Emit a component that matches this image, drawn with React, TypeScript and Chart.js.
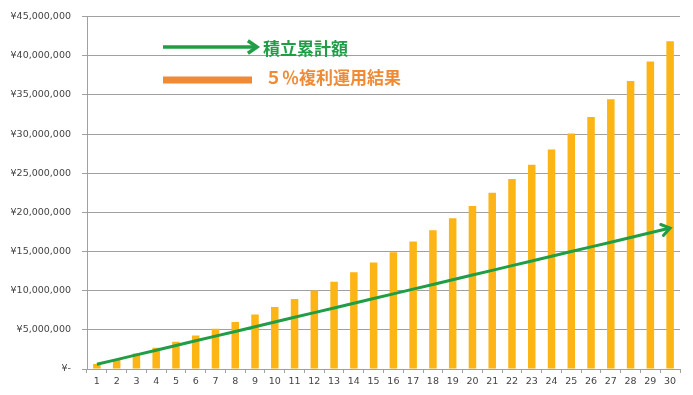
import React, { useEffect, useRef } from "react";
import { Chart, registerables } from "chart.js";

Chart.register(...registerables);

const years = ["1","2","3","4","5","6","7","8","9","10","11","12","13","14","15","16","17","18","19","20","21","22","23","24","25","26","27","28","29","30"];
// 5% compound result (bars)
const compoundValues = [630000,1291000,1986000,2715000,3481000,4285000,5129000,6016000,6947000,7924000,8950000,10028000,11159000,12347000,13594000,14904000,16279000,17723000,19240000,20832000,22503000,24258000,26101000,28036000,30068000,32201000,34442000,36794000,39263000,41856000];
// cumulative contributions (arrow line)
const cumulativeValues = [600000,1200000,1800000,2400000,3000000,3600000,4200000,4800000,5400000,6000000,6600000,7200000,7800000,8400000,9000000,9600000,10200000,10800000,11400000,12000000,12600000,13200000,13800000,14400000,15000000,15600000,16200000,16800000,17400000,18000000];
const legendLabels = ["積立累計額", "５％複利運用結果"];

const GREEN = "#1f9e45";
const BAR = "#fdb515";
const ORANGE = "#f08a34";

function drawChevron(ctx: CanvasRenderingContext2D, x: number, y: number, angle: number, len: number) {
  ctx.beginPath();
  ctx.moveTo(x - len * Math.cos(angle - 0.6), y - len * Math.sin(angle - 0.6));
  ctx.lineTo(x, y);
  ctx.lineTo(x - len * Math.cos(angle + 0.6), y - len * Math.sin(angle + 0.6));
  ctx.stroke();
}

const overlayPlugin = {
  id: "overlay",
  afterDatasetsDraw(chart: any) {
    const ctx = chart.ctx as CanvasRenderingContext2D;
    const meta = chart.getDatasetMeta(1);
    const pts = meta.data;
    if (pts.length > 1) {
      const a = pts[pts.length - 2];
      const b = pts[pts.length - 1];
      const ang = Math.atan2(b.y - a.y, b.x - a.x);
      ctx.save();
      ctx.strokeStyle = GREEN;
      ctx.lineWidth = 3;
      ctx.lineCap = "round";
      ctx.lineJoin = "miter";
      drawChevron(ctx, b.x, b.y, ang, 10);
      ctx.restore();
    }
    // legend
    ctx.save();
    ctx.strokeStyle = GREEN;
    ctx.lineWidth = 3.5;
    ctx.beginPath();
    ctx.moveTo(163, 47);
    ctx.lineTo(256, 47);
    ctx.stroke();
    drawChevron(ctx, 257, 47, 0, 11);
    ctx.strokeStyle = ORANGE;
    ctx.lineWidth = 7;
    ctx.beginPath();
    ctx.moveTo(163, 80);
    ctx.lineTo(252, 80);
    ctx.stroke();
    ctx.font = "bold 17px 'Noto Sans CJK JP'";
    ctx.textBaseline = "middle";
    ctx.textAlign = "left";
    ctx.fillStyle = GREEN;
    ctx.fillText(legendLabels[0], 263, 49);
    ctx.fillStyle = ORANGE;
    ctx.fillText(legendLabels[1], 265, 78);
    ctx.restore();
  },
};

export default function App() {
  const ref = useRef<HTMLCanvasElement>(null);
  useEffect(() => {
    if (!ref.current) return;
    const chart = new Chart(ref.current, {
      type: "bar",
      data: {
        labels: years,
        datasets: [
          {
            type: "bar",
            label: legendLabels[1],
            data: compoundValues,
            backgroundColor: BAR,
            barPercentage: 0.38,
            categoryPercentage: 1,
            order: 2,
          },
          {
            type: "line",
            label: legendLabels[0],
            data: cumulativeValues,
            borderColor: GREEN,
            borderWidth: 3,
            pointRadius: 0,
            tension: 0,
            order: 1,
          } as any,
        ],
      },
      options: {
        responsive: false,
        animation: false,
        layout: { padding: { left: 0, right: 13, top: 9, bottom: 4 } },
        plugins: { legend: { display: false }, tooltip: { enabled: false } },
        scales: {
          x: {
            grid: {
              display: true,
              drawOnChartArea: false,
              drawTicks: true,
              tickLength: 4,
              color: "#a0a0a0",
              offset: true,
            },
            border: { color: "#a0a0a0" },
            ticks: {
              color: "#444",
              font: { family: "'DejaVu Sans'", size: 9.5 },
              maxRotation: 0,
              autoSkip: false,
              padding: 3,
            },
            afterFit(scale: any) {
              scale.height = 22;
            },
          },
          y: {
            min: 0,
            max: 45000000,
            grid: { color: "#a0a0a0", tickLength: 5, drawTicks: true },
            border: { color: "#a0a0a0" },
            ticks: {
              stepSize: 5000000,
              color: "#444",
              font: { family: "'DejaVu Sans'", size: 9.5 },
              padding: 11,
              callback: (v: any) => (Number(v) === 0 ? "¥-" : "¥" + Number(v).toLocaleString("en-US")),
            },
            afterFit(scale: any) {
              scale.width = 87;
            },
          },
        },
      },
      plugins: [overlayPlugin],
    });
    return () => chart.destroy();
  }, []);
  return (
    <div style={{ position: "fixed", left: 0, top: 0, width: 693, height: 395, background: "#fff" }}>
      <canvas ref={ref} width={693} height={395} style={{ width: 693, height: 395 }} />
    </div>
  );
}
